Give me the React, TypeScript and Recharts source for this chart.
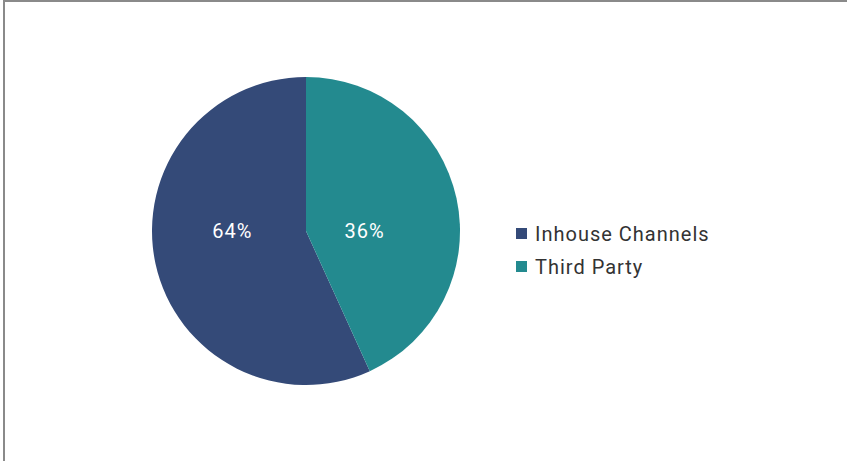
import React from 'react';
import { PieChart, Pie, Cell, Legend } from 'recharts';

// slice sizes as drawn; the printed labels are kept separately
const channels = ['Inhouse Channels', 'Third Party'];
const shares = [56.8, 43.2];
const shareLabels = ['64%', '36%'];
const colors = ['#344A78', '#238A8F'];

const data = channels.map((name, i) => ({ name, value: shares[i], label: shareLabels[i] }));

const FONT = 'Roboto, "Noto Sans", sans-serif';
const RAD = Math.PI / 180;

const renderLabel = (props: any) => {
  const { cx, cy, midAngle, outerRadius, index } = props;
  const k = index === 0 ? 0.49 : 0.39;
  const x = cx + Math.cos(-midAngle * RAD) * outerRadius * k;
  return (
    <text
      x={x}
      y={cy}
      fill="#ffffff"
      textAnchor="middle"
      dominantBaseline="central"
      fontSize={20}
      letterSpacing={1}
      fontFamily={FONT}
    >
      {shareLabels[index]}
    </text>
  );
};

const renderLegend = () => (
  <div style={{ fontFamily: FONT, fontSize: 20, letterSpacing: 1, color: '#333333' }}>
    {data.map((d, i) => (
      <div key={d.name} style={{ display: 'flex', alignItems: 'center', height: 33 }}>
        <span style={{ width: 11, height: 11, background: colors[i], marginRight: 8, display: 'inline-block' }} />
        <span>{d.name}</span>
      </div>
    ))}
  </div>
);

const App = () => {
  return (
    <div
      style={{
        position: 'absolute',
        left: 0,
        top: 0,
        width: 847,
        height: 461,
        background: '#ffffff',
        overflow: 'hidden',
      }}
    >
      <div
        style={{
          position: 'absolute',
          left: 3,
          top: 0,
          width: 860,
          height: 480,
          borderTop: '2px solid #8a8a8a',
          borderLeft: '2px solid #8a8a8a',
        }}
      />
      <PieChart
        width={847}
        height={461}
        margin={{ top: 0, right: 0, bottom: 0, left: 0 }}
        style={{ position: 'absolute', left: 0, top: 0 }}
      >
        <Pie
          data={data}
          dataKey="value"
          nameKey="name"
          cx={306}
          cy={231}
          outerRadius={154}
          startAngle={90}
          endAngle={450}
          stroke="none"
          label={renderLabel}
          labelLine={false}
          isAnimationActive={false}
        >
          {data.map((d, i) => (
            <Cell key={d.name} fill={colors[i]} />
          ))}
        </Pie>
        <Legend
          layout="vertical"
          content={renderLegend}
          wrapperStyle={{ left: 516, top: 217, width: 250 }}
        />
      </PieChart>
    </div>
  );
};

export default App;
